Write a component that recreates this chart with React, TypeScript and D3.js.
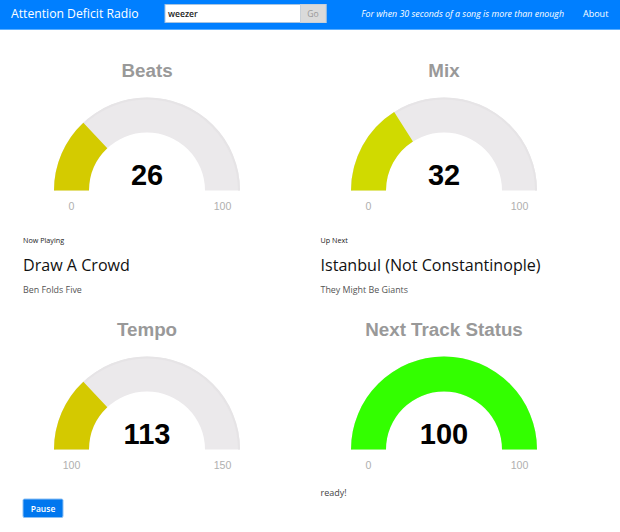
import * as d3 from 'd3';

const gaugeTitles = ['Beats', 'Mix', 'Tempo', 'Next Track Status'];
const gaugeValues = [26, 32, 113, 100];
const gaugeMins = [0, 0, 100, 0];
const gaugeMaxs = [100, 100, 150, 100];
const gaugeColors = ['#d4cb00', '#d0da00', '#d4c900', '#33ff00'];

const nowPlaying = { label: 'Now Playing', title: 'Draw A Crowd', artist: 'Ben Folds Five' };
const upNext = { label: 'Up Next', title: 'Istanbul (Not Constantinople)', artist: 'They Might Be Giants' };

const width = 620;
const height = 532;
const outerR = 93;
const innerR = 58;
const sans = '"Open Sans", sans-serif';
const arial = '"Liberation Sans", Arial, sans-serif';

// gauge centres, two columns and two rows
const colX = [147, 444];
const rowY = [190.5, 449.5];

const arc = d3.arc<{ startAngle: number; endAngle: number }>()
  .innerRadius(innerR)
  .outerRadius(outerR);

// thin darker rim on the grey track, the original has a soft inner shadow
const rim = d3.arc<{ startAngle: number; endAngle: number }>()
  .innerRadius(outerR - 2)
  .outerRadius(outerR);

const half = { startAngle: -Math.PI / 2, endAngle: Math.PI / 2 };

function Gauge({ index }: { index: number }) {
  const cx = colX[index % 2];
  const cy = rowY[Math.floor(index / 2)];
  const min = gaugeMins[index];
  const max = gaugeMaxs[index];
  const angle = d3.scaleLinear().domain([min, max]).range([-Math.PI / 2, Math.PI / 2]);
  const ticks = [min, max];
  return (
    <g transform={`translate(${cx},${cy})`}>
      <text y={-113.5} textAnchor="middle" fontFamily={arial} fontWeight="bold" fontSize={18.8} fill="#999999">
        {gaugeTitles[index]}
      </text>
      <path d={arc(half) ?? ''} fill="#ebe9eb" />
      <path d={rim(half) ?? ''} fill="#e6e4e6" />
      <path d={arc({ startAngle: -Math.PI / 2, endAngle: angle(gaugeValues[index]) }) ?? ''} fill={gaugeColors[index]} />
      <text y={-5.5} textAnchor="middle" fontFamily={arial} fontWeight="bold" fontSize={29} fill="#010101">
        {gaugeValues[index]}
      </text>
      {ticks.map((t, i) => (
        <text key={i} x={i === 0 ? -75.5 : 75.5} y={19.5} textAnchor="middle" fontFamily={arial} fontSize={10.6} fill="#b0b0b0">
          {t}
        </text>
      ))}
    </g>
  );
}

function Track({ x, info }: { x: number; info: typeof nowPlaying }) {
  return (
    <g fontFamily={sans}>
      <text x={x} y={243} fontSize={7.2} fill="#222222">{info.label}</text>
      <text x={x} y={271} fontSize={16.1} fill="#111111">{info.title}</text>
      <text x={x} y={293} fontSize={8.9} fill="#555555">{info.artist}</text>
    </g>
  );
}

export default function App() {
  return (
    <svg width={width} height={height} style={{ position: 'absolute', left: 0, top: 0, display: 'block' }}>
      <rect width={width} height={height} fill="#ffffff" />
      <rect width={width} height={29} fill="#007fff" />
      <rect y={29} width={width} height={1} fill="#5aaeff" />
      <text x={11} y={18} fontFamily={sans} fontSize={12.2} fill="#ffffff">Attention Deficit Radio</text>
      <rect x={165} y={4.5} width={161} height={18} fill="#ffffff" stroke="#a8c4e0" />
      <rect x={300.5} y={4.5} width={25.5} height={18} fill="#dadada" stroke="#c8d0d8" />
      <text x={168} y={17} fontFamily={sans} fontSize={8.6} fontWeight={600} fill="#222222">weezer</text>
      <text x={313} y={17} textAnchor="middle" fontFamily={sans} fontSize={8.6} fill="#999999">Go</text>
      <text x={564} y={17} textAnchor="end" fontFamily={sans} fontStyle="italic" fontSize={8.85} fill="#ffffff">
        For when 30 seconds of a song is more than enough
      </text>
      <text x={583} y={17} fontFamily={sans} fontSize={9} fill="#ffffff">About</text>

      {gaugeValues.map((_, i) => <Gauge key={i} index={i} />)}

      <Track x={23} info={nowPlaying} />
      <Track x={320.5} info={upNext} />

      <rect x={23} y={499} width={40} height={18.5} rx={1.5} fill="#0077ee" stroke="#8cc0f4" />
      <text x={43} y={511.5} textAnchor="middle" fontFamily={sans} fontSize={8.5} fontWeight={600} fill="#ffffff">Pause</text>
      <text x={320.5} y={496} fontFamily={sans} fontSize={9} fill="#444444">ready!</text>
    </svg>
  );
}
